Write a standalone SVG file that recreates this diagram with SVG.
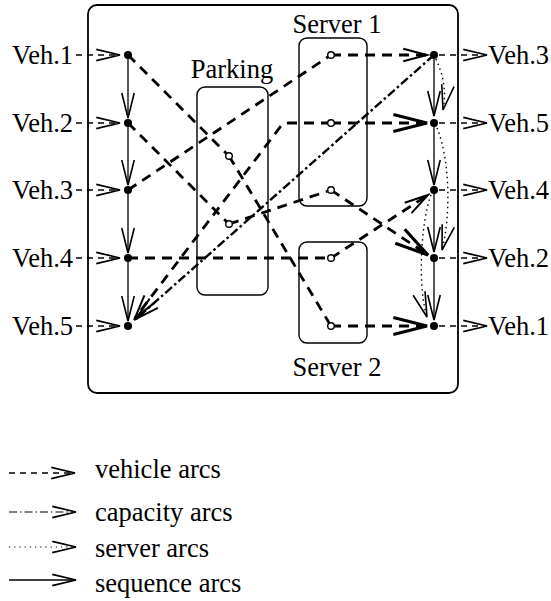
<svg xmlns="http://www.w3.org/2000/svg" width="551" height="601" viewBox="0 0 551 601">
<defs>
<marker id="thin" markerUnits="userSpaceOnUse" markerWidth="30" markerHeight="20" viewBox="-22 -8 24 16" refX="0" refY="0" orient="auto"><path d="M-19,-5 L0,0 L-19,5" fill="none" stroke="#000" stroke-width="1.6"/></marker>
<marker id="bold" markerUnits="userSpaceOnUse" markerWidth="40" markerHeight="24" viewBox="-36 -11 38 22" refX="0" refY="0" orient="auto"><path d="M-32,-8 L0,0 L-32,8" fill="none" stroke="#000" stroke-width="3"/></marker>
<marker id="seq" markerUnits="userSpaceOnUse" markerWidth="30" markerHeight="20" viewBox="-22 -8 24 16" refX="0" refY="0" orient="auto"><path d="M-20,-5 L0,0 L-20,5" fill="none" stroke="#000" stroke-width="1.3"/></marker>
<marker id="io" markerUnits="userSpaceOnUse" markerWidth="30" markerHeight="20" viewBox="-22 -8 24 16" refX="0" refY="0" orient="auto"><path d="M-19,-4.5 L0,0 L-19,4.5" fill="none" stroke="#000" stroke-width="1.4"/></marker>
</defs>
<style>
text{font-family:"Liberation Serif","Times New Roman",serif;font-size:26.5px;fill:#000}
.box{fill:none;stroke:#000;stroke-width:1.4}
.outer{fill:none;stroke:#000;stroke-width:1.8}
.veh{fill:none;stroke:#000;stroke-width:2.8;stroke-dasharray:10 7}
.io{fill:none;stroke:#000;stroke-width:1.3;stroke-dasharray:6 5}
.cap{fill:none;stroke:#000;stroke-width:2.4;stroke-dasharray:9 3 2.5 3}
.srv{fill:none;stroke:#000;stroke-width:1.4;stroke-dasharray:1.5 3.5}
.seqa{fill:none;stroke:#000;stroke-width:1.3}
.dot{fill:#000}
.hole{fill:#fff;stroke:#000;stroke-width:1.4}
</style>

<g id="frame"><rect class="outer" x="88" y="5" width="370" height="388" rx="9"/></g>
<g id="parking"><rect class="box" x="197" y="87" width="71" height="208" rx="8"/><text x="232" y="78" text-anchor="middle">Parking</text></g>
<g id="server1"><rect class="box" x="299" y="38" width="68" height="168" rx="8"/><text x="337" y="33" text-anchor="middle">Server 1</text></g>
<g id="server2"><rect class="box" x="299" y="242" width="68" height="101" rx="8"/><text x="337" y="376" text-anchor="middle">Server 2</text></g>

<g id="connectors">
<!-- input arcs -->
<path class="io" d="M76,55 H120" marker-end="url(#io)"/>
<path class="io" d="M76,123 H120" marker-end="url(#io)"/>
<path class="io" d="M76,190 H120" marker-end="url(#io)"/>
<path class="io" d="M76,258 H120" marker-end="url(#io)"/>
<path class="io" d="M76,326 H120" marker-end="url(#io)"/>
<!-- output arcs -->
<path class="io" d="M439,55 H487" marker-end="url(#io)"/>
<path class="io" d="M439,123 H487" marker-end="url(#io)"/>
<path class="io" d="M439,190 H487" marker-end="url(#io)"/>
<path class="io" d="M439,258 H487" marker-end="url(#io)"/>
<path class="io" d="M439,326 H487" marker-end="url(#io)"/>
<!-- sequence arcs -->
<path class="seqa" d="M128,58 V118" marker-end="url(#seq)"/>
<path class="seqa" d="M128,126 V185" marker-end="url(#seq)"/>
<path class="seqa" d="M128,193 V253" marker-end="url(#seq)"/>
<path class="seqa" d="M128,261 V321" marker-end="url(#seq)"/>
<path class="seqa" d="M434,58 V116" marker-end="url(#seq)"/>
<path class="seqa" d="M434,126 V185" marker-end="url(#seq)"/>
<path class="seqa" d="M434,193 V252" marker-end="url(#seq)"/>
<path class="seqa" d="M434,261 V320" marker-end="url(#seq)"/>
<!-- vehicle arcs -->
<path class="veh" d="M128,55 L229,156"/>
<path class="veh" d="M229,156 L331,326"/>
<path class="veh" d="M331,326 H427" marker-end="url(#bold)"/>
<path class="veh" d="M128,123 L229,224"/>
<path class="veh" d="M229,224 L331,190"/>
<path class="veh" d="M331,190 L428,255" marker-end="url(#bold)"/>
<path class="veh" d="M128,190 L331,55"/>
<path class="veh" d="M331,55 H427" marker-end="url(#thin)"/>
<path class="veh" d="M128,258 H331"/>
<path class="veh" d="M331,258 L428,195" marker-end="url(#thin)"/>
<path class="veh" d="M331,123 H289 Q284,123 281,126 L135,318" marker-end="url(#thin)"/>
<path class="veh" d="M331,123 H427" marker-end="url(#bold)"/>
<!-- capacity arc -->
<path class="cap" d="M434,55 L136,319" marker-end="url(#thin)"/>
<!-- server arcs -->
<path class="srv" d="M436,59 Q448,85 443,110" marker-end="url(#seq)"/>
<path class="srv" d="M437,128 C450,160 451,215 442,250" marker-end="url(#seq)"/>
<path class="srv" d="M431,195 C420,225 418,290 427,317" marker-end="url(#seq)"/>
</g>

<g id="nodes">
<g id="L1"><circle class="dot" cx="128" cy="55" r="4"/><text x="12" y="64">Veh.1</text></g>
<g id="L2"><circle class="dot" cx="128" cy="123" r="4"/><text x="12" y="132">Veh.2</text></g>
<g id="L3"><circle class="dot" cx="128" cy="190" r="4"/><text x="12" y="199">Veh.3</text></g>
<g id="L4"><circle class="dot" cx="128" cy="258" r="4"/><text x="12" y="267">Veh.4</text></g>
<g id="L5"><circle class="dot" cx="128" cy="326" r="4"/><text x="12" y="335">Veh.5</text></g>
<g id="R1"><circle class="dot" cx="434" cy="55" r="4"/><text x="488" y="64">Veh.3</text></g>
<g id="R2"><circle class="dot" cx="434" cy="123" r="4"/><text x="488" y="132">Veh.5</text></g>
<g id="R3"><circle class="dot" cx="434" cy="190" r="4"/><text x="488" y="199">Veh.4</text></g>
<g id="R4"><circle class="dot" cx="434" cy="258" r="4"/><text x="488" y="267">Veh.2</text></g>
<g id="R5"><circle class="dot" cx="434" cy="326" r="4"/><text x="488" y="335">Veh.1</text></g>
<g id="P1"><circle class="hole" cx="229" cy="156" r="3.3"/></g>
<g id="P2"><circle class="hole" cx="229" cy="224" r="3.3"/></g>
<g id="S1a"><circle class="hole" cx="331" cy="55" r="3.3"/></g>
<g id="S1b"><circle class="hole" cx="331" cy="123" r="3.3"/></g>
<g id="S1c"><circle class="hole" cx="331" cy="190" r="3.3"/></g>
<g id="S2a"><circle class="hole" cx="331" cy="258" r="3.3"/></g>
<g id="S2b"><circle class="hole" cx="331" cy="326" r="3.3"/></g>
</g>

<g id="legend">
<path class="io" d="M9,473 H75" stroke-dasharray="9 5" marker-end="url(#io)"/>
<text x="95" y="478">vehicle arcs</text>
<path fill="none" stroke="#000" stroke-width="1.2" stroke-dasharray="8 3 1.5 3" d="M9,512 H76" marker-end="url(#io)"/>
<text x="95" y="521">capacity arcs</text>
<path fill="none" stroke="#000" stroke-width="1.2" stroke-dasharray="1.2 4" d="M9,547 H76" marker-end="url(#io)"/>
<text x="95" y="557">server arcs</text>
<path class="seqa" d="M9,580 H76" marker-end="url(#io)"/>
<text x="95" y="592">sequence arcs</text>
</g>
</svg>
